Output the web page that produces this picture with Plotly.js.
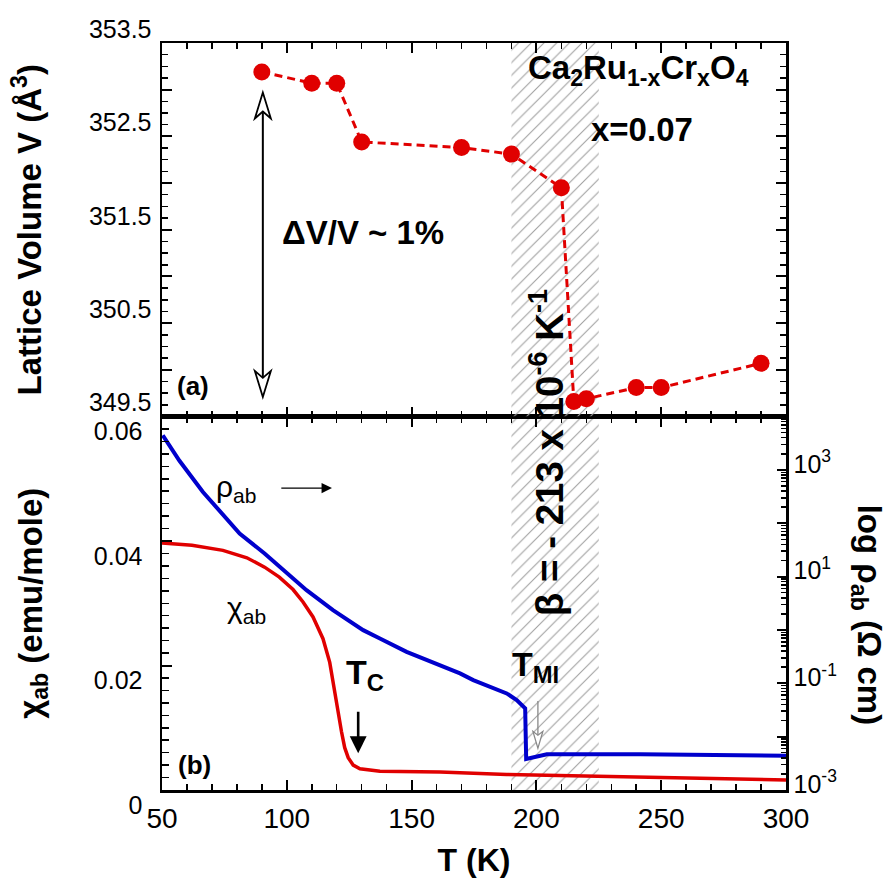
<!DOCTYPE html>
<html><head><meta charset="utf-8">
<script src="https://cdn.plot.ly/plotly-3.0.1.min.js"></script>
<style>body{margin:0;background:#fff}#plot{width:888px;height:884px}</style>
</head><body><div id="plot"></div>
<script>
// ---- data ----
const volT = [90, 110, 120, 130, 170, 190, 210, 215, 220, 240, 250, 290];
const volV = [353.19, 353.07, 353.07, 352.44, 352.38, 352.31, 351.95, 349.66, 349.69, 349.81, 349.81, 350.07];

const chiT = [50, 62, 74.4, 84, 91.1, 97, 102.5, 106.5, 110.5, 114.5, 117.2, 119.2, 120.5, 121.9, 123.2, 124.6, 126.6, 129.3, 137.3, 161.4, 188.1, 241.6, 300];
const chiV = [0.0397, 0.0393, 0.0385, 0.0373, 0.0358, 0.0342, 0.0322, 0.0302, 0.0278, 0.0243, 0.0205, 0.0157, 0.0123, 0.0094, 0.0068, 0.0052, 0.0040, 0.0034, 0.0030, 0.0029, 0.0025, 0.0021, 0.0016];

const rhoT = [50.3, 57, 66.4, 81.1, 91.1, 98.5, 107.9, 118.5, 130.6, 137.3, 148.0, 169.4, 174.7, 188.1, 192.1, 195.5, 195.9, 204.2, 241.6, 300];
const rhoV = [4446, 1480, 385, 64.1, 27.1, 13.2, 5.56, 2.35, 0.991, 0.693, 0.389, 0.153, 0.115, 0.0646, 0.0484, 0.0339, 0.0038, 0.00468, 0.00468, 0.00437];

const shadeT = [190, 225];           // hatched transition band (K)
const tRange = [50, 300];
const volRange = [349.5, 353.5];
const chiRange = [0, 0.06];
const rhoLogRange = [-3, 4];

const xTickVals = [50, 100, 150, 200, 250, 300];
const volTickVals = [349.5, 350, 350.5, 351, 351.5, 352, 352.5, 353, 353.5];
const volTickText = ['349.5', '', '350.5', '', '351.5', '', '352.5', '', '353.5'];
const chiTickVals = [0, 0.02, 0.04, 0.06];
const chiTickText = ['0', '0.02', '0.04', '0.06'];
const rhoTickVals = [1e-3, 1e-2, 1e-1, 1, 10, 100, 1e3, 1e4];
const rhoTickText = ['10<sup>-3</sup>', '', '10<sup>-1</sup>', '', '10<sup>1</sup>', '', '10<sup>3</sup>', ''];

// ---- styling ----
const F = 'Liberation Sans, Arial, sans-serif';
const RED = '#e00000', BLUE = '#0000cc';

function band(yr) {
  return {
    x: [shadeT[0], shadeT[1], shadeT[1], shadeT[0], shadeT[0]],
    y: [yr[0], yr[0], yr[1], yr[1], yr[0]],
    mode: 'lines', line: {width: 0}, fill: 'toself',
    fillcolor: 'rgba(255,255,255,0)',
    fillpattern: {shape: '/', fgcolor: '#a0a0a0', bgcolor: 'rgba(255,255,255,0)', size: 9, solidity: 0.12},
    hoverinfo: 'skip', showlegend: false
  };
}

const traces = [
  Object.assign(band(volRange), {xaxis: 'x2', yaxis: 'y2'}),
  Object.assign(band(chiRange), {xaxis: 'x', yaxis: 'y'}),
  {x: volT, y: volV, xaxis: 'x2', yaxis: 'y2', mode: 'lines+markers',
   line: {color: RED, width: 3, dash: '8px,5px'}, marker: {color: RED, size: 17}},
  {x: chiT, y: chiV, xaxis: 'x', yaxis: 'y', mode: 'lines',
   line: {color: RED, width: 3.5}},
  {x: rhoT, y: rhoV, xaxis: 'x', yaxis: 'y3', mode: 'lines',
   line: {color: BLUE, width: 4}}
];

const common = {
  showline: true, linecolor: 'black', linewidth: 2.5, showgrid: false, zeroline: false,
  ticks: 'inside', tickcolor: 'black', tickwidth: 2, ticklen: 10
};

const xCommon = Object.assign({}, common, {
  range: tRange, tickmode: 'array', tickvals: xTickVals, mirror: 'ticks',
  minor: {dtick: 10, tick0: 50, ticks: 'inside', ticklen: 6, tickwidth: 1.5, tickcolor: 'black'}
});

const layout = {
  width: 888, height: 884,
  margin: {l: 162, r: 102, t: 43, b: 94},
  paper_bgcolor: 'white', plot_bgcolor: 'white',
  showlegend: false,
  font: {family: F, color: 'black'},
  xaxis: Object.assign({}, xCommon, {
    domain: [0, 1], anchor: 'y',
    tickfont: {family: F, size: 28}, ticklabelstandoff: 2,
    title: {text: '<b>T (K)</b>', font: {family: F, size: 32}, standoff: 16}
  }),
  xaxis2: Object.assign({}, xCommon, {
    domain: [0, 1], anchor: 'y2', matches: 'x', showticklabels: false
  }),
  yaxis: Object.assign({}, common, {
    domain: [0, 0.5], anchor: 'x', range: chiRange,
    tickmode: 'array', tickvals: chiTickVals, ticktext: chiTickText,
    ticklabelshift: 15, ticklabelstandoff: 12,
    minor: {dtick: 0.002, tick0: 0, ticks: 'inside', ticklen: 7, tickwidth: 1.5, tickcolor: 'black'},
    tickfont: {family: F, size: 25},
    title: {text: '<b>χ<sub>ab</sub> (emu/mole)</b>', font: {family: F, size: 33}, standoff: 42}
  }),
  yaxis2: Object.assign({}, common, {
    domain: [0.5, 1], anchor: 'x2', range: volRange, mirror: 'ticks',
    tickmode: 'array', tickvals: volTickVals, ticktext: volTickText,
    ticklabelshift: -14, ticklabelstandoff: 3,
    minor: {dtick: 0.125, tick0: 349.5, ticks: 'inside', ticklen: 6, tickwidth: 1.5, tickcolor: 'black'},
    tickfont: {family: F, size: 25},
    title: {text: '<b>Lattice Volume V (Å<sup>3</sup>)</b>', font: {family: F, size: 33}, standoff: 38}
  }),
  yaxis3: Object.assign({}, common, {
    overlaying: 'y', side: 'right', anchor: 'x', type: 'log', range: rhoLogRange,
    tickmode: 'array', tickvals: rhoTickVals, ticktext: rhoTickText,
    ticklen: 9, ticklabelshift: -6,
    minor: {dtick: 'D1', ticks: 'inside', ticklen: 5, tickwidth: 1.5, tickcolor: 'black'},
    tickfont: {family: F, size: 25}
  }),
  annotations: [
    {xref: 'x2', yref: 'y2', x: 130.5, y: 351.47, text: '<b>ΔV/V ~ 1%</b>', showarrow: false, font: {size: 33}},
    {xref: 'x2', yref: 'y2', x: 62.5, y: 349.83, text: '<b>(a)</b>', showarrow: false, font: {size: 26}},
    {xref: 'x', yref: 'y', x: 63, y: 0.0040, text: '<b>(b)</b>', showarrow: false, font: {size: 26}},
    {xref: 'x2', yref: 'y2', x: 241, y: 353.46, yanchor: 'top', text: '<b>Ca<sub>2</sub>Ru<sub>1-x</sub>Cr<sub>x</sub>O<sub>4</sub></b>', showarrow: false, font: {size: 33}},
    {xref: 'x2', yref: 'y2', x: 242.3, y: 352.57, text: '<b>x=0.07</b>', showarrow: false, font: {size: 33}},
    {xref: 'x', yref: 'paper', x: 204.3, y: 0.451, text: '<b>β = - 213 x 10<sup>-6</sup> K<sup>-1</sup></b>', textangle: -90, showarrow: false, font: {size: 38.5}},
    {xref: 'x', yref: 'y', x: 79.7, y: 0.0485, text: 'ρ<sub>ab</sub>', showarrow: false, font: {size: 30}},
    {xref: 'x', yref: 'y', x: 118.1, y: 0.0485, ax: 97.2, ay: 0.0485, axref: 'x', ayref: 'y', text: '', showarrow: true, arrowhead: 2, arrowsize: 1.6, arrowwidth: 1.3, arrowcolor: 'black'},
    {xref: 'x', yref: 'y', x: 83.8, y: 0.0290, text: 'χ<sub>ab</sub>', showarrow: false, font: {size: 30}},
    {xref: 'x', yref: 'y', x: 131.3, y: 0.0186, text: '<b>T<sub>C</sub></b>', showarrow: false, font: {size: 34}},
    {xref: 'x', yref: 'y', x: 128.6, y: 0.0059, ax: 128.6, ay: 0.0128, axref: 'x', ayref: 'y', text: '', showarrow: true, arrowhead: 2, arrowsize: 1.3, arrowwidth: 2.6, arrowcolor: 'black'},
    {xref: 'x', yref: 'y', x: 199.7, y: 0.0199, text: '<b>T<sub>MI</sub></b>', showarrow: false, font: {size: 34}},
    {xref: 'paper', yref: 'paper', x: 1.129, y: 0.234, xanchor: 'center', yanchor: 'middle', text: '<b>log ρ<sub>ab</sub> (Ω cm)</b>', textangle: 90, showarrow: false, font: {family: F, size: 33}}
  ],
  shapes: [
    // double-headed arrow in panel (a)
    {type: 'line', xref: 'x2', yref: 'y2', x0: 90.4, x1: 90.4, y0: 352.92, y1: 349.76, line: {color: 'black', width: 2}},
    {type: 'path', xref: 'x2', yref: 'y2', xsizemode: 'pixel', ysizemode: 'pixel', xanchor: 90.4, yanchor: 352.97,
     path: 'M 0,0 L -8,-26 L 0,-19 L 8,-26 Z', fillcolor: 'white', line: {color: 'black', width: 1.8}},
    {type: 'path', xref: 'x2', yref: 'y2', xsizemode: 'pixel', ysizemode: 'pixel', xanchor: 90.4, yanchor: 349.71,
     path: 'M 0,0 L -8,26 L 0,19 L 8,26 Z', fillcolor: 'white', line: {color: 'black', width: 1.8}},
    // T_MI thin grey arrow
    {type: 'line', xref: 'x', yref: 'y', x0: 200.6, x1: 200.6, y0: 0.0143, y1: 0.0075, line: {color: '#888', width: 1.3}},
    {type: 'path', xref: 'x', yref: 'y', xsizemode: 'pixel', ysizemode: 'pixel', xanchor: 200.6, yanchor: 0.0067,
     path: 'M 0,0 L -5,17 L 0,13 L 5,17 Z', fillcolor: 'white', line: {color: '#888', width: 1.2}}
  ]
};

Plotly.newPlot('plot', traces, layout, {staticPlot: true});
</script>
</body></html>
